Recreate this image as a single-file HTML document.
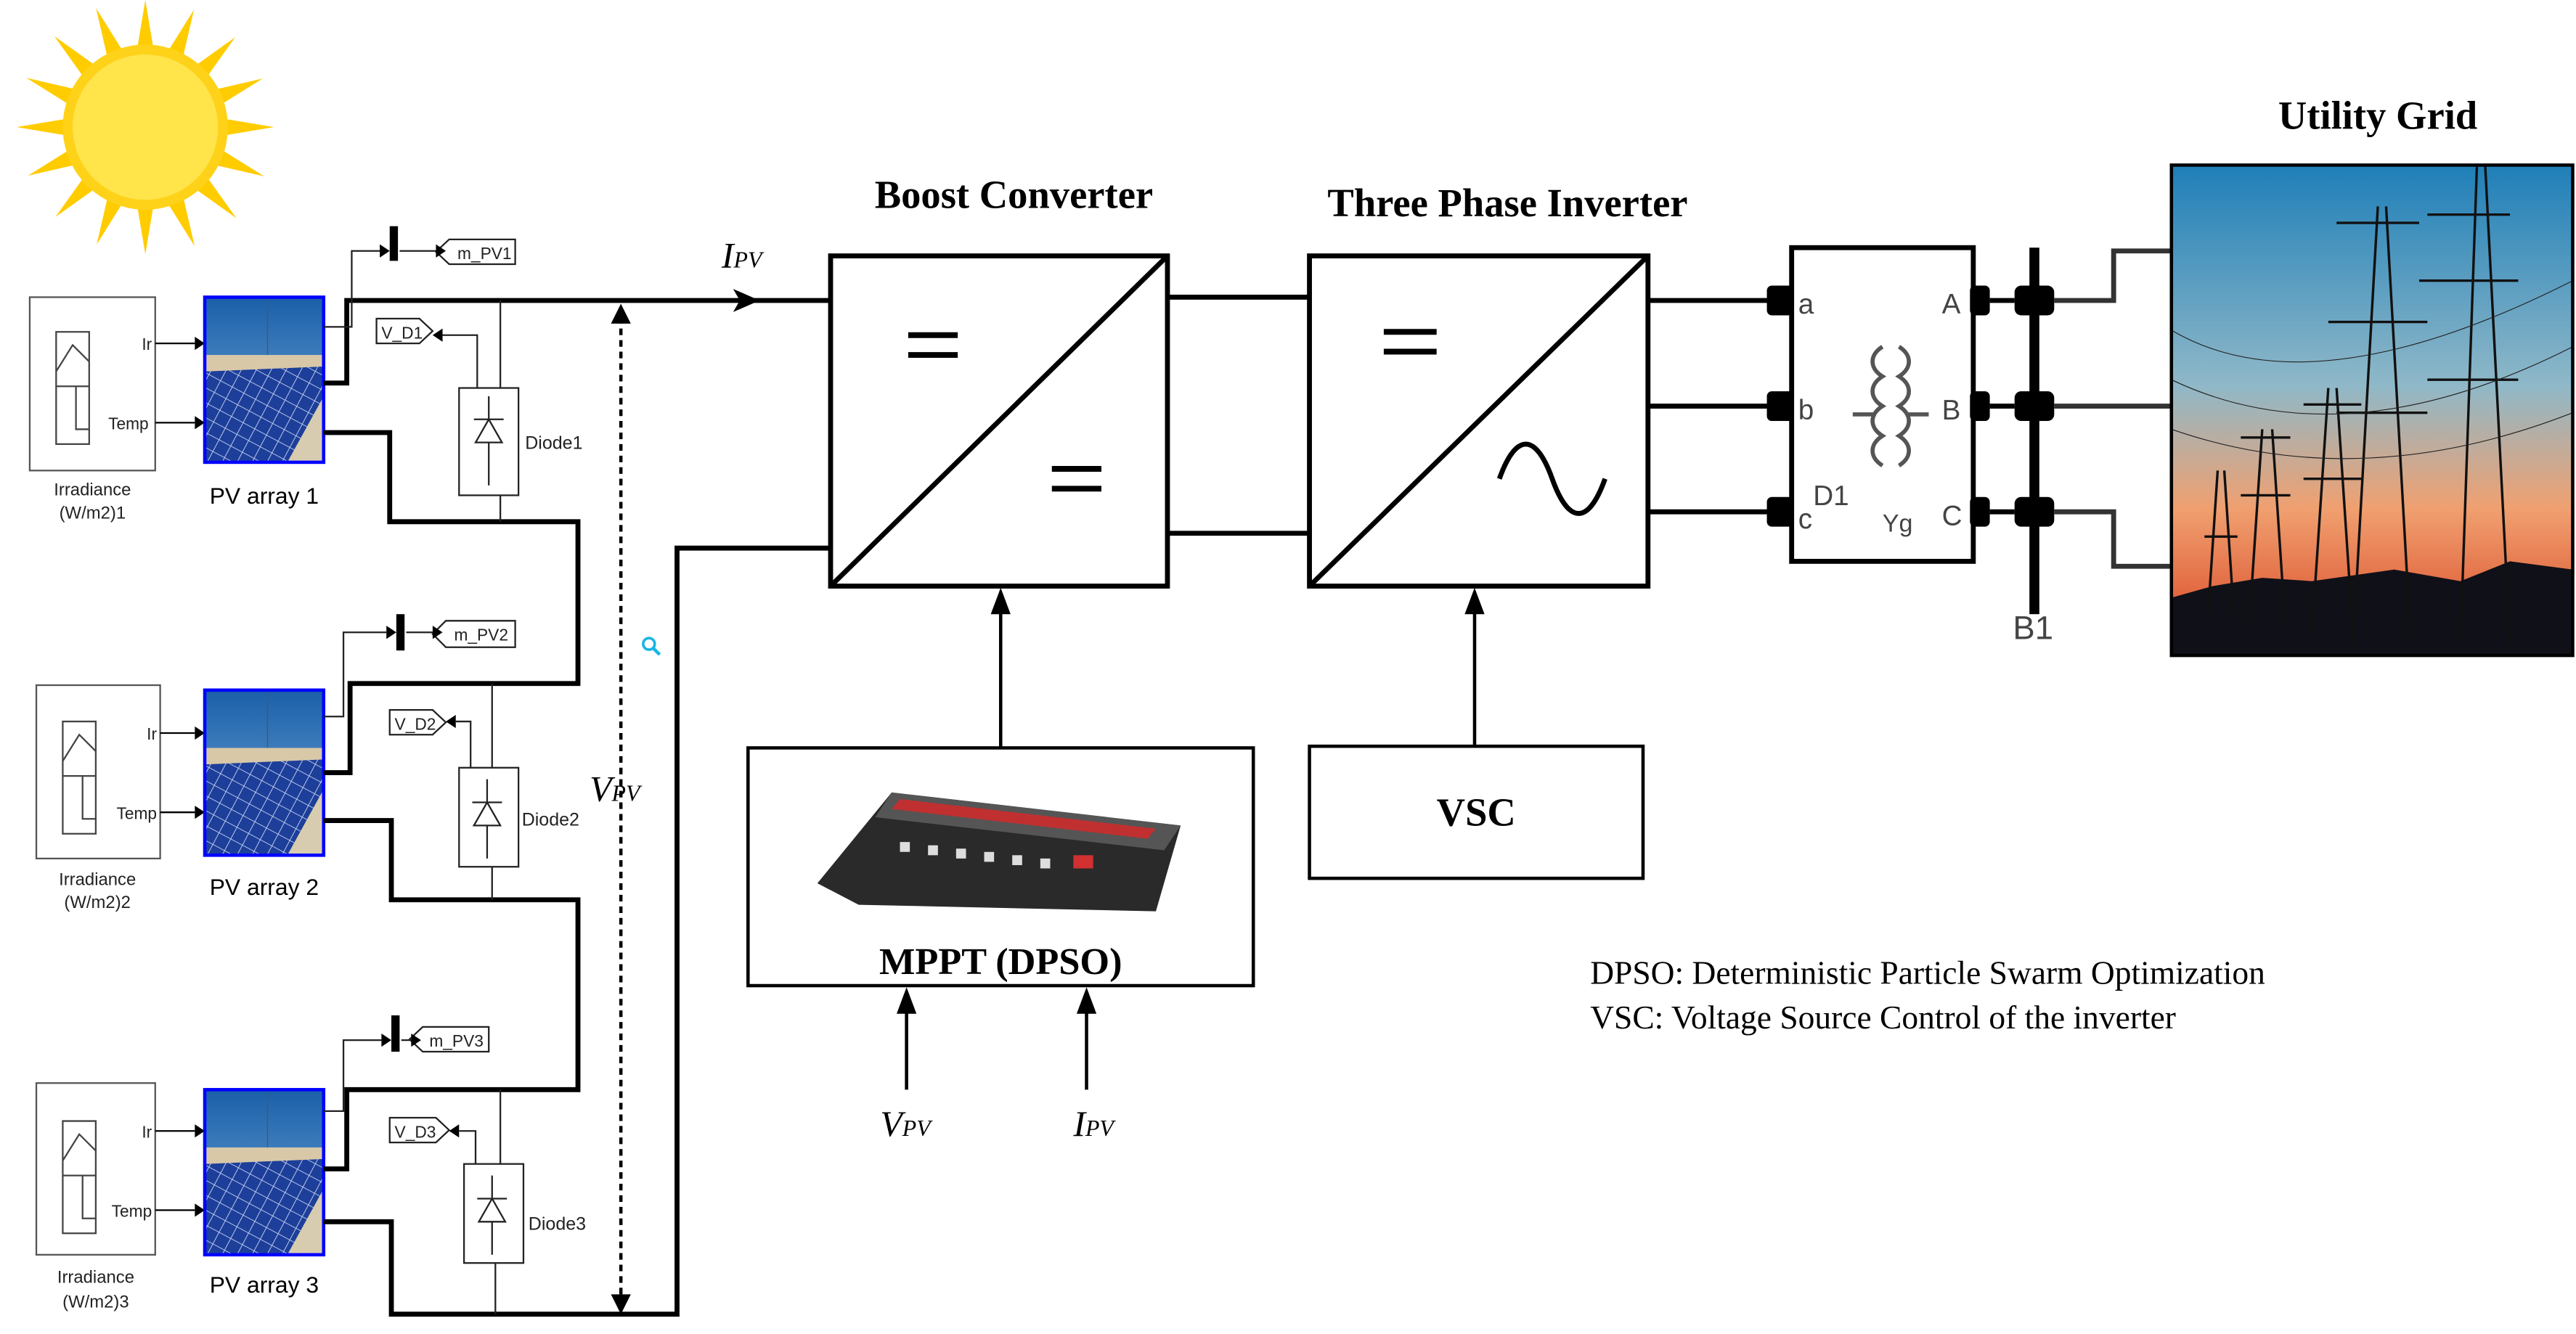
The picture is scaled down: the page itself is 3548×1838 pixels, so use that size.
<!DOCTYPE html>
<html><head><meta charset="utf-8"><style>html,body{margin:0;padding:0;background:#fff}svg{display:block}</style></head>
<body>
<svg width="3548" height="1838" viewBox="0 0 1560 808" preserveAspectRatio="none" xmlns="http://www.w3.org/2000/svg" font-family="Liberation Sans, sans-serif">
<defs>
<linearGradient id="sky" x1="0" y1="0" x2="0" y2="1"><stop offset="0" stop-color="#1f7fb8"/><stop offset="0.45" stop-color="#8fb8c8"/><stop offset="0.7" stop-color="#f0a070"/><stop offset="0.9" stop-color="#e0603a"/></linearGradient>
<linearGradient id="pvsky" x1="0" y1="0" x2="0" y2="1"><stop offset="0" stop-color="#1a5fa8"/><stop offset="1" stop-color="#7ab0e0"/></linearGradient>
<pattern id="cells" width="8" height="8" patternUnits="userSpaceOnUse" patternTransform="rotate(28)"><rect width="8" height="8" fill="#1d3f9a"/><path d="M0 0H8M0 0V8" stroke="#c8d4f0" stroke-width="0.8"/></pattern>
<symbol id="pv" viewBox="0 0 72 100"><rect width="72" height="100" fill="url(#pvsky)"/><rect x="0" y="35" width="72" height="10" fill="#d8c8a8"/><polygon points="0,45 72,42 72,100 0,100" fill="url(#cells)"/><polygon points="50,100 72,60 72,100" fill="#d8ccb0"/><line x1="38" y1="0" x2="38" y2="35" stroke="#555" stroke-width="0.6"/></symbol>
</defs>
<!-- sun -->
<g fill="#ffcc00">
<g id="rays">
<polygon points="88,0 83,30 93,30"/><polygon points="88,154 83,124 93,124"/><polygon points="10,77 40,72 40,82"/><polygon points="166,77 136,72 136,82"/>
</g>
<use href="#rays" transform="rotate(22.5 88 77)"/><use href="#rays" transform="rotate(45 88 77)"/><use href="#rays" transform="rotate(67.5 88 77)"/>
</g>
<circle cx="88" cy="77" r="50" fill="#ffd21a"/><circle cx="88" cy="77" r="44" fill="#ffe44a"/>

<g fill="none" stroke="#000" stroke-width="1">
<rect x="18" y="180" width="76" height="105" stroke="#555"/><rect x="22" y="415" width="75" height="105" stroke="#555"/><rect x="22" y="656" width="72" height="104" stroke="#555"/>
<g stroke="#444"><path d="M34 201h20v68h-20zM34 234h20M34 225l10-16 10 10M34 234h12v26h8"/></g>
<g stroke="#444" transform="translate(4,236)"><path d="M34 201h20v68h-20zM34 234h20M34 225l10-16 10 10M34 234h12v26h8"/></g>
<g stroke="#444" transform="translate(4,478)"><path d="M34 201h20v68h-20zM34 234h20M34 225l10-16 10 10M34 234h12v26h8"/></g>
<path d="M94 208H118M94 256H118M97 444H118M97 492H118M94 685H118M94 733H118"/>
</g>
<g fill="#000"><path d="M118 204l6 4-6 4zM118 252l6 4-6 4zM118 440l6 4-6 4zM118 488l6 4-6 4zM118 681l6 4-6 4zM118 729l6 4-6 4z"/></g>
<g font-size="10" fill="#222" text-anchor="end"><text x="92" y="212">Ir</text><text x="90" y="260">Temp</text><text x="95" y="448">Ir</text><text x="95" y="496">Temp</text><text x="92" y="689">Ir</text><text x="92" y="737">Temp</text></g>
<g font-size="10.5" fill="#222" text-anchor="middle"><text x="56" y="300">Irradiance</text><text x="56" y="314">(W/m2)1</text><text x="59" y="536">Irradiance</text><text x="59" y="550">(W/m2)2</text><text x="58" y="777">Irradiance</text><text x="58" y="792">(W/m2)3</text></g>
<use href="#pv" x="124" y="180" width="72" height="100"/><rect x="124" y="180" width="72" height="100" fill="none" stroke="#0000ff" stroke-width="2"/>
<use href="#pv" x="124" y="418" width="72" height="100"/><rect x="124" y="418" width="72" height="100" fill="none" stroke="#0000ff" stroke-width="2"/>
<use href="#pv" x="124" y="660" width="72" height="100"/><rect x="124" y="660" width="72" height="100" fill="none" stroke="#0000ff" stroke-width="2"/>
<g font-size="14" fill="#000" text-anchor="middle"><text x="160" y="305">PV array 1</text><text x="160" y="542">PV array 2</text><text x="160" y="783">PV array 3</text></g>

<g fill="none" stroke="#000" stroke-width="3" stroke-linejoin="miter">
<path d="M196 232H210V182H503"/>
<path d="M196 262H236V316H350V414H212V468H196"/>
<path d="M196 497H237V545H350V660H210V708H196"/>
<path d="M196 740H237V796H410V332H503"/>
<path d="M707 180H793M707 323H793"/>
<path d="M998 182H1073M998 246H1073M998 310H1073"/>
</g>
<path d="M444 175L460 182L444 189L448 182z" fill="#000"/>
<g fill="none" stroke="#222" stroke-width="1">
<path d="M196 198H213V152H230M242 152H264"/>
<path d="M196 434H208V383H234M246 383H262"/>
<path d="M196 673H208V630H231M243 630H249"/>
<path d="M303 182V235M303 300V316M298 414V465M298 525V545M303 660V705M300 765V796"/>
<path d="M289 235V203H268M285 465V437H276M288 705V685H278"/>
<rect x="278" y="235" width="36" height="65"/><rect x="278" y="465" width="36" height="60"/><rect x="281" y="705" width="36" height="60"/>
<path d="M272 145h40v15h-40l-8-7.5z"/><path d="M270 376h42v16h-42l-8-8z"/><path d="M256 622h40v15h-40l-8-7.5z"/>
<path d="M228 193h26l8 7.5-8 7.5h-26z"/><path d="M236 430h26l8 7.5-8 7.5h-26z"/><path d="M236 677h28l8 7.5-8 7.5h-28z"/>
</g>
<g fill="#000"><path d="M230 148l6 4-6 4zM264 148l6 4-6 4zM234 379l6 4-6 4zM262 379l6 4-6 4zM231 626l6 4-6 4zM249 626l6 4-6 4zM268 199l-6 4 6 4zM276 433l-6 4 6 4zM278 681l-6 4 6 4z"/></g>
<g fill="#000"><rect x="236" y="137" width="5" height="21"/><rect x="240" y="372" width="5" height="22"/><rect x="237" y="615" width="5" height="22"/></g>
<g font-size="10" fill="#222"><text x="277" y="157">m_PV1</text><text x="275" y="388">m_PV2</text><text x="260" y="634">m_PV3</text>
<text x="231" y="205">V_D1</text><text x="239" y="442">V_D2</text><text x="239" y="689">V_D3</text>
<text x="318" y="272" font-size="11">Diode1</text><text x="316" y="500" font-size="11">Diode2</text><text x="320" y="745" font-size="11">Diode3</text></g>
<g fill="none" stroke="#222" stroke-width="1">
<path d="M288 268l8-14 8 14zM287 254h18M296 240v14M296 268v26"/>
<path d="M287 500l8-14 8 14zM286 486h18M295 472v14M295 500v20"/>
<path d="M290 740l8-14 8 14zM289 726h18M298 712v14M298 740v20"/>
</g>
<path d="M376 784V194" stroke="#000" stroke-width="2" stroke-dasharray="4,3" fill="none"/>
<g fill="#000"><path d="M370 196L376 184L382 196z"/><path d="M370 784L376 796L382 784z"/></g>
<circle cx="393" cy="390" r="3.5" fill="none" stroke="#19b5e6" stroke-width="1.6"/><path d="M395.5 392.5l4 4" stroke="#19b5e6" stroke-width="2"/>
<g font-family="Liberation Serif, serif" font-style="italic" fill="#000">
<text x="437" y="162" font-size="22">I<tspan font-size="14">PV</tspan></text>
<text x="357" y="485" font-size="22">V<tspan font-size="14">PV</tspan></text>
<text x="533" y="688" font-size="22">V<tspan font-size="14">PV</tspan></text>
<text x="650" y="688" font-size="22">I<tspan font-size="14">PV</tspan></text>
</g>

<g fill="none" stroke="#000" stroke-width="3">
<rect x="503" y="155" width="204" height="200"/><path d="M503 355L707 155"/>
<rect x="793" y="155" width="205" height="200"/><path d="M793 355L998 155"/>
<rect x="453" y="453" width="306" height="144" stroke-width="2"/>
<rect x="793" y="452" width="202" height="80" stroke-width="2"/>
<path d="M908 290c10-28 22-28 32 0s22 28 32 0" stroke-width="3"/>
</g>
<g stroke="#000" stroke-width="3.5"><path d="M550 203h30M550 215h30M637 284h30M637 296h30M838 201h32M838 213h32"/></g>
<g stroke="#000" stroke-width="2" fill="none"><path d="M606 453V370M893 452V370M549 660V612M658 660V612"/></g>
<g fill="#000"><path d="M600 372L606 356L612 372z"/><path d="M887 372L893 356L899 372z"/><path d="M543 614L549 598L555 614z"/><path d="M652 614L658 598L664 614z"/></g>
<g font-family="Liberation Serif, serif" font-weight="bold" fill="#000" text-anchor="middle">
<text x="614" y="126" font-size="24">Boost Converter</text>
<text x="913" y="131" font-size="24">Three Phase Inverter</text>
<text x="1440" y="78" font-size="24">Utility Grid</text>
<text x="606" y="590" font-size="23">MPPT (DPSO)</text>
<text x="894" y="500" font-size="24">VSC</text>
</g>
<polygon points="495,535 540,480 715,500 700,552 520,548" fill="#2a2a2a"/>
<polygon points="540,480 715,500 705,515 530,495" fill="#555"/>
<polygon points="545,484 700,502 695,508 540,490" fill="#c03030"/>
<g fill="#ddd"><rect x="545" y="510" width="6" height="6"/><rect x="562" y="512" width="6" height="6"/><rect x="579" y="514" width="6" height="6"/><rect x="596" y="516" width="6" height="6"/><rect x="613" y="518" width="6" height="6"/><rect x="630" y="520" width="6" height="6"/></g>
<rect x="650" y="518" width="12" height="8" fill="#d03030"/>

<g font-family="Liberation Serif, serif" font-size="20" fill="#000"><text x="963" y="596">DPSO: Deterministic Particle Swarm Optimization</text><text x="963" y="623">VSC: Voltage Source Control of the inverter</text></g>

<rect x="1085" y="150" width="110" height="190" fill="#fff" stroke="#000" stroke-width="3"/>
<g fill="#000"><rect x="1070" y="173" width="16" height="18" rx="3"/><rect x="1070" y="237" width="16" height="18" rx="3"/><rect x="1070" y="301" width="16" height="18" rx="3"/>
<rect x="1193" y="173" width="12" height="18" rx="3"/><rect x="1193" y="237" width="12" height="18" rx="3"/><rect x="1193" y="301" width="12" height="18" rx="3"/>
<rect x="1229" y="150" width="6" height="222"/>
<rect x="1220" y="173" width="24" height="18" rx="4"/><rect x="1220" y="237" width="24" height="18" rx="4"/><rect x="1220" y="301" width="24" height="18" rx="4"/></g>
<g stroke="#000" stroke-width="3"><path d="M1205 182H1220M1205 246H1220M1205 310H1220"/></g>
<g font-size="17" fill="#444"><text x="1089" y="190">a</text><text x="1089" y="254">b</text><text x="1089" y="320">c</text><text x="1098" y="306">D1</text><text x="1140" y="322" font-size="15">Yg</text><text x="1176" y="190">A</text><text x="1176" y="254">B</text><text x="1176" y="318">C</text><text x="1219" y="387" font-size="20">B1</text></g>
<g fill="none" stroke="#555" stroke-width="2.5"><path d="M1140 210c-8 5-8 13 0 18c-8 5-8 13 0 18c-8 5-8 13 0 18c-8 5-8 13 0 18"/><path d="M1150 210c8 5 8 13 0 18c8 5 8 13 0 18c8 5 8 13 0 18c8 5 8 13 0 18"/><path d="M1122 251h14M1154 251h14"/></g>
<g fill="none" stroke="#333" stroke-width="3"><path d="M1244 182H1280V152H1316M1244 246H1316M1244 310H1280V343H1316"/></g>
<rect x="1315" y="100" width="243" height="297" fill="url(#sky)"/>
<polygon points="1315,362 1340,355 1370,350 1400,352 1450,345 1490,352 1520,340 1558,345 1558,397 1315,397" fill="#101018"/>
<g stroke="#111" stroke-width="1.5" fill="none">
<path d="M1500 100L1490 390M1505 100L1520 390M1470 130h50M1465 170h60M1470 230h55"/>
<path d="M1440 125L1425 390M1445 125L1460 390M1415 135h50M1410 195h60M1415 250h55"/>
<path d="M1410 235L1400 385M1415 235L1425 385M1395 245h35M1395 290h35"/>
<path d="M1370 260L1362 380M1376 260L1384 380M1357 265h30M1357 300h30"/>
<path d="M1343 285L1337 375M1347 285L1353 375M1335 325h20"/>
</g>
<g stroke="#222" stroke-width="0.5" fill="none"><path d="M1315 200Q1400 250 1558 170M1315 230Q1420 280 1558 210M1315 260Q1430 300 1558 250"/></g>
<rect x="1315" y="100" width="243" height="297" fill="none" stroke="#000" stroke-width="2"/>
</svg>
</body></html>
